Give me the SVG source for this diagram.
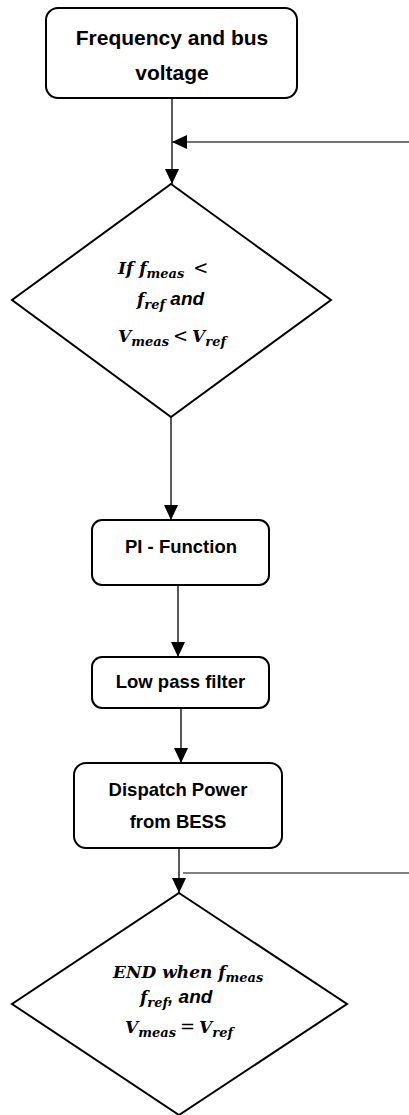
<svg xmlns="http://www.w3.org/2000/svg" width="409" height="1115" viewBox="0 0 409 1115">
  <style>
    .box { fill: #fff; stroke: #000; stroke-width: 2; }
    .dec { fill: #fff; stroke: #000; stroke-width: 2; stroke-linejoin: miter; }
    .lbl { font-family: "Liberation Sans", Arial, sans-serif; font-weight: bold; fill: #000; text-anchor: middle; }
    .m { font-family: "DejaVu Serif", "Liberation Serif", serif; font-weight: bold; font-style: italic; font-size: 17px; fill: #000; }
    .sub { font-size: 13px; }
    .op { font-family: "DejaVu Serif", serif; font-style: normal; font-weight: normal; font-size: 18px; }
    .w { font-family: "Liberation Sans", Arial, sans-serif; font-weight: bold; font-style: italic; font-size: 19px; }
    .wire { fill: none; stroke: #000; stroke-width: 1.3; }
  </style>
  <defs>
    <marker id="arrow" viewBox="0 0 15 14" refX="15" refY="7" markerWidth="15" markerHeight="14" markerUnits="userSpaceOnUse" orient="auto">
      <path d="M0,0 L15,7 L0,14 z" fill="#000"/>
    </marker>
  </defs>

  <!-- connectors -->
  <g id="connectors">
    <line class="wire" x1="172" y1="98" x2="172" y2="184" marker-end="url(#arrow)"/>
    <line class="wire" x1="409" y1="142" x2="172" y2="142" style="stroke:#444" marker-end="url(#arrow)"/>
    <line class="wire" x1="171" y1="417" x2="171" y2="520" marker-end="url(#arrow)"/>
    <line class="wire" x1="178" y1="585" x2="178" y2="657" marker-end="url(#arrow)"/>
    <line class="wire" x1="181" y1="708" x2="181" y2="763" marker-end="url(#arrow)"/>
    <line class="wire" x1="179" y1="848" x2="179" y2="893" marker-end="url(#arrow)"/>
    <line x1="183" y1="873" x2="409" y2="873" stroke="#000" stroke-width="1"/>
  </g>

  <!-- start: measured quantities -->
  <g id="start">
    <rect class="box" x="46" y="8" width="251" height="90" rx="12"/>
    <text class="lbl" x="172" y="45" font-size="21">Frequency and bus</text>
    <text class="lbl" x="172" y="80" font-size="21">voltage</text>
  </g>

  <!-- first decision -->
  <g id="check">
    <polygon class="dec" points="171,184 331,300 171,417 12,300"/>
    <text class="m" x="118" y="274">If f<tspan class="sub" dy="4">meas</tspan><tspan class="op" dy="-4" dx="9">&lt;</tspan></text>
    <text class="m" x="137" y="305">f<tspan class="sub" dy="4">ref</tspan><tspan class="w" dy="-4"> and</tspan></text>
    <text class="m" x="118" y="342">V<tspan class="sub" dy="4">meas</tspan><tspan class="op" dy="-4" dx="4">&lt;</tspan><tspan dx="4">V</tspan><tspan class="sub" dy="4">ref</tspan></text>
  </g>

  <!-- controller -->
  <g id="pi">
    <rect class="box" x="92" y="520" width="177" height="65" rx="10"/>
    <text class="lbl" x="181" y="553" font-size="18.5">PI - Function</text>
  </g>

  <g id="filter">
    <rect class="box" x="92" y="657" width="177" height="51" rx="10"/>
    <text class="lbl" x="180.5" y="688" font-size="18.5">Low pass filter</text>
  </g>

  <g id="dispatch">
    <rect class="box" x="74" y="763" width="208" height="85" rx="12"/>
    <text class="lbl" x="178" y="796" font-size="18.5">Dispatch Power</text>
    <text class="lbl" x="178" y="828" font-size="18.5">from BESS</text>
  </g>

  <!-- end decision -->
  <g id="end">
    <polygon class="dec" points="179,893 347,1004 179,1115 12,1004"/>
    <text class="m" x="113" y="978">END when f<tspan class="sub" dy="4">meas</tspan></text>
    <text class="m" x="140" y="1003">f<tspan class="sub" dy="4">ref</tspan><tspan class="w" dy="-4">, and</tspan></text>
    <text class="m" x="125" y="1033">V<tspan class="sub" dy="4">meas</tspan><tspan class="op" dy="-4" dx="4">=</tspan><tspan dx="4">V</tspan><tspan class="sub" dy="4">ref</tspan></text>
  </g>
</svg>
